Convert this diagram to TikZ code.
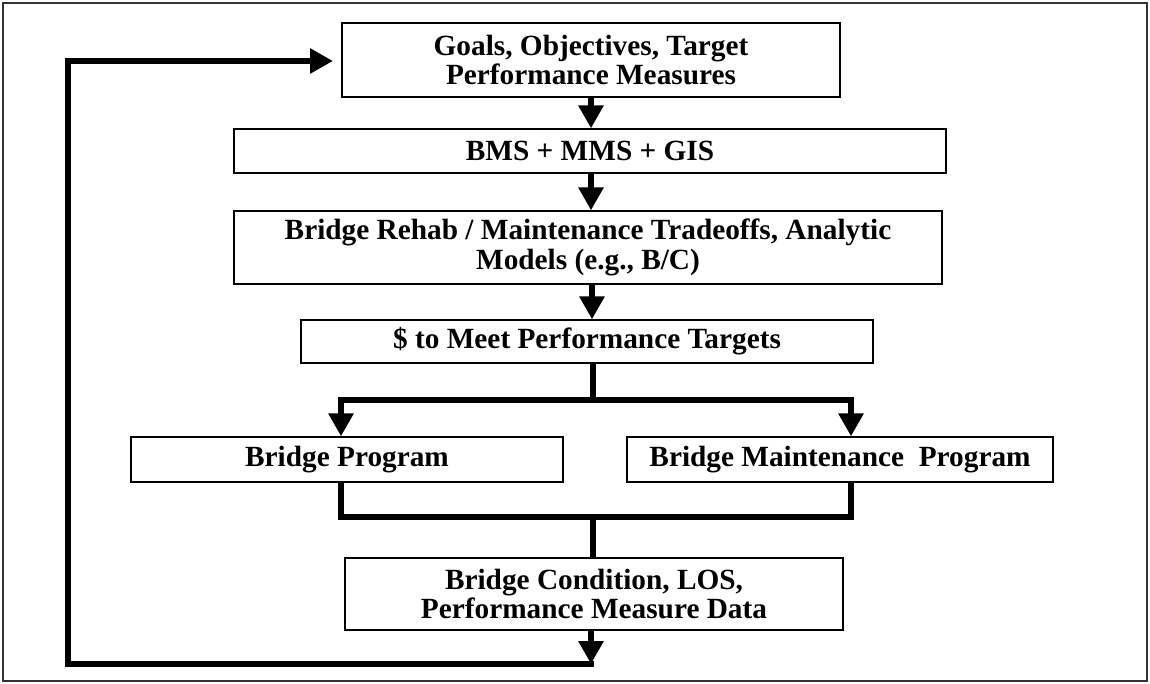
\documentclass[tikz,border=0pt]{standalone}
\usepackage{fontspec}
\setmainfont{Liberation Serif}
\usetikzlibrary{arrows.meta}
\tikzset{
  box/.style={draw=black, line width=1.3pt, fill=white, inner sep=0pt, align=center,
    font=\fontsize{29.3pt}{29.5pt}\selectfont\bfseries},
  conn/.style={draw=black, line width=6pt, line join=miter},
  tri/.style={-{Triangle[width=24pt,length=23pt]}},
}
\begin{document}
\begin{tikzpicture}[x=1pt,y=-1pt]
\useasboundingbox (0,0) rectangle (1150,683);
\draw[line width=1.6pt, black!80] (3,3) rectangle (1147,681);

\node[box, minimum width=498pt, minimum height=74pt] (b1) at (591,60) {Goals, Objectives, Target\\Performance Measures};
\node[box, minimum width=712pt, minimum height=44pt] (b2) at (590,151) {BMS + MMS + GIS};
\node[box, minimum width=708pt, minimum height=73pt] (b3) at (588,247.5) {Bridge Rehab / Maintenance Tradeoffs, Analytic\\Models (e.g., B/C)};
\node[box, minimum width=572pt, minimum height=43pt] (b4) at (587,341.5) {\$ to Meet Performance Targets};
\node[box, minimum width=432pt, minimum height=45pt] (b5) at (347,459.5) {Bridge Program};
\node[box, minimum width=426pt, minimum height=45pt] (b6) at (840,459.5) {Bridge Maintenance\ \ Program};
\node[box, minimum width=498pt, minimum height=72pt] (b7) at (594,594) {Bridge Condition, LOS,\\Performance Measure Data};

\coordinate (a1) at (591,0);
\coordinate (a3) at (592,0);
\coordinate (s1) at (593,400);
\coordinate (L1) at (341,400);
\coordinate (R1) at (851,400);
\coordinate (s2) at (593,517);
\coordinate (L2) at (341,517);
\coordinate (R2) at (851,517);
\coordinate (fb) at (591,664);
\coordinate (fbL) at (68,664);
\coordinate (fbT) at (68,61);
\coordinate (fbE) at (333,61);

\draw[conn,tri] (b1.south -| a1) -- (b2.north -| a1);
\draw[conn,tri] (b2.south -| a1) -- (b3.north -| a1);
\draw[conn,tri] (b3.south -| a3) -- (b4.north -| a3);
\draw[conn] (b4.south -| s1) -- (s1);
\draw[conn,tri] (s1) -- (L1) -- (L1 |- b5.north);
\draw[conn,tri] (s1) -- (R1) -- (R1 |- b6.north);
\draw[conn] (L1 |- b5.south) -- (L2) -- (R2) -- (R1 |- b6.south);
\draw[conn] (s2) -- (s2 |- b7.north);
\draw[conn,tri] (b7.south -| fb) -- (fb);
\draw[conn,tri] ([xshift=3pt]fb) -- (fbL) -- (fbT) -- (fbE);
\end{tikzpicture}
\end{document}
